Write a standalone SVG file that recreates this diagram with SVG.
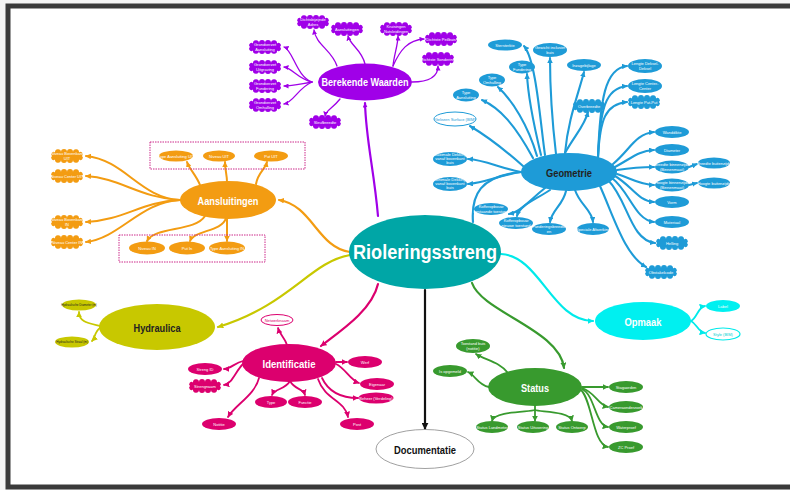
<svg xmlns="http://www.w3.org/2000/svg" xmlns:xlink="http://www.w3.org/1999/xlink" width="790" height="490" viewBox="0 0 790 490">
<defs>
<style>
.t{font-family:"Liberation Sans",Arial,sans-serif;font-size:4px;fill:#fff;text-anchor:middle}
.td{fill:#222}
.h{font-family:"Liberation Sans",Arial,sans-serif;font-weight:bold;text-anchor:middle;fill:#fff}
.P{fill:#a000e8}.B{fill:#1e9bd7}.O{fill:#f39c12}.Y{fill:#c8c800}.M{fill:#dc006e}.G{fill:#389a2e}.C{fill:#00f0f0}
.cn path{fill:none;stroke-width:1.8;stroke-linecap:round}
.cn path.cp{stroke:#a000e8;marker-end:url(#ap);stroke-width:1.3}
.cn path.cb{stroke:#1e9bd7;marker-end:url(#ab);stroke-width:2.1}
.cn path.co{stroke:#f39c12;marker-end:url(#ao);stroke-width:2}
.cy{stroke:#c8c800;marker-end:url(#ay)}
.cm{stroke:#dc006e;marker-end:url(#am)}
.cg{stroke:#389a2e;marker-end:url(#ag)}
.cc{stroke:#00eaea;marker-end:url(#ac)}
.cn path.main{stroke-width:2.2}
.box{fill:none;stroke:#cc2a8a;stroke-width:1;stroke-dasharray:1.5 1}
</style>
<path id="cloud" d="M-12,-3.5 A3,3 0 0 1 -6,-4 A3,3 0 0 1 0,-4 A3,3 0 0 1 6,-4 A3,3 0 0 1 12,-3.5 A2,2 0 0 1 15,0 A2,2 0 0 1 12,3.5 A3,3 0 0 1 6,4 A3,3 0 0 1 0,4 A3,3 0 0 1 -6,4 A3,3 0 0 1 -12,3.5 A2,2 0 0 1 -15,0 A2,2 0 0 1 -12,-3.5 Z"/>
<marker id="ap" viewBox="0 0 10 10" refX="9" refY="5" markerWidth="5" markerHeight="5" orient="auto" markerUnits="userSpaceOnUse"><path d="M0,0L10,5L0,10z" fill="#a000e8"/></marker>
<marker id="ab" viewBox="0 0 10 10" refX="9" refY="5" markerWidth="5.5" markerHeight="5.5" orient="auto" markerUnits="userSpaceOnUse"><path d="M0,0L10,5L0,10z" fill="#1e9bd7"/></marker>
<marker id="ao" viewBox="0 0 10 10" refX="9" refY="5" markerWidth="5.5" markerHeight="5.5" orient="auto" markerUnits="userSpaceOnUse"><path d="M0,0L10,5L0,10z" fill="#f39c12"/></marker>
<marker id="ay" viewBox="0 0 10 10" refX="9" refY="5" markerWidth="6" markerHeight="6" orient="auto" markerUnits="userSpaceOnUse"><path d="M0,0L10,5L0,10z" fill="#c8c800"/></marker>
<marker id="am" viewBox="0 0 10 10" refX="9" refY="5" markerWidth="6" markerHeight="6" orient="auto" markerUnits="userSpaceOnUse"><path d="M0,0L10,5L0,10z" fill="#dc006e"/></marker>
<marker id="ag" viewBox="0 0 10 10" refX="9" refY="5" markerWidth="6" markerHeight="6" orient="auto" markerUnits="userSpaceOnUse"><path d="M0,0L10,5L0,10z" fill="#389a2e"/></marker>
<marker id="ac" viewBox="0 0 10 10" refX="9" refY="5" markerWidth="6" markerHeight="6" orient="auto" markerUnits="userSpaceOnUse"><path d="M0,0L10,5L0,10z" fill="#00eaea"/></marker>
<marker id="ak" viewBox="0 0 10 10" refX="9" refY="5" markerWidth="7" markerHeight="7" orient="auto" markerUnits="userSpaceOnUse"><path d="M0,0L10,5L0,10z" fill="#111"/></marker>
</defs>
<rect x="0" y="0" width="790" height="490" fill="#f4f4f4"/>
<rect x="8" y="6" width="800" height="481" fill="#fff" stroke="#3a3a3a" stroke-width="5"/>

<g class="cn" id="connectors">
<!-- main -->
<path class="cp main" d="M378,216 C374,170 366,140 365,103"/>
<path class="co main" d="M350,252 C318,248 312,205 279,200"/>
<path class="cy main" d="M350,255 C310,262 290,305 218,327"/>
<path class="cm main" d="M378,284 C372,310 342,330 321,346"/>
<path class="cg main" d="M472,283 C482,312 560,330 564,368"/>
<path class="cc main" d="M501,254 C540,256 552,321 593,321"/>
<path class="main" stroke="#111" stroke-width="1.8" marker-end="url(#ak)" d="M425,290 L425,429"/>
<path class="main" stroke="#1e9bd7" d="M473,222 C471,195 480,176 521,172"/>
<!-- purple -->
<path class="cp" d="M312,82 C296,76 293,50 284,47"/>
<path class="cp" d="M312,82 C298,79 292,68 284,67"/>
<path class="cp" d="M312,82 C300,84 292,86 284,86"/>
<path class="cp" d="M312,82 C298,88 294,102 284,104"/>
<path class="cp" d="M337,66 C332,50 316,45 314,30"/>
<path class="cp" d="M365,64 C362,50 350,45 348,36"/>
<path class="cp" d="M393,66 C394,55 398,45 398,36"/>
<path class="cp" d="M393,66 C400,50 408,40 424,39"/>
<path class="cp" d="M412,82 C430,82 438,76 438,66"/>
<path class="cp" d="M340,99 C333,108 326,110 325,116"/>
<!-- blue -->
<path class="cb" d="M533,158 C515,125 500,108 482,100"/>
<path class="cb" d="M537,156 C528,125 512,100 498,87"/>
<path class="cb" d="M541,155 C535,130 528,100 527,74"/>
<path class="cb" d="M545,155 C540,120 536,60 524,46"/>
<path class="cb" d="M556,154 C552,120 550,90 550,58"/>
<path class="cb" d="M523,166 C505,150 485,135 470,126"/>
<path class="cb" d="M565,153 C568,120 578,95 584,72"/>
<path class="cb" d="M565,153 C575,135 585,125 588,112"/>
<path class="cb" d="M598,157 C600,100 605,68 627,66"/>
<path class="cb" d="M598,157 C600,110 605,88 627,86"/>
<path class="cb" d="M598,157 C600,120 605,104 627,102"/>
<path class="cb" d="M613,164 C630,150 635,134 654,132"/>
<path class="cb" d="M615,167 C632,158 638,151 654,150"/>
<path class="cb" d="M617,170 C630,168 640,167 654,167"/>
<path class="cb" d="M617,174 C630,178 640,185 654,185"/>
<path class="cb" d="M615,176 C632,186 638,201 654,202"/>
<path class="cb" d="M612,178 C630,192 635,220 654,222"/>
<path class="cb" d="M608,180 C628,200 630,240 655,243"/>
<path class="cb" d="M600,186 C615,220 625,255 646,267"/>
<path class="cb" d="M689,167 L697,164"/>
<path class="cb" d="M689,185 L697,183"/>
<path class="cb" d="M521,172 C500,168 485,160 468,159"/>
<path class="cb" d="M521,172 C500,175 485,183 468,184"/>
<path class="cb" d="M545,188 C530,200 520,212 509,214"/>
<path class="cb" d="M550,190 C535,200 520,205 517,216"/>
<path class="cb" d="M566,191 C563,205 552,210 550,222"/>
<path class="cb" d="M575,190 C580,205 592,210 593,222"/>
<!-- orange -->
<path class="co" d="M180,200 C140,198 125,160 86,156"/>
<path class="co" d="M180,200 C140,198 120,178 86,176"/>
<path class="co" d="M180,200 C140,202 125,220 86,222"/>
<path class="co" d="M180,200 C140,202 120,238 86,242"/>
<path class="co" d="M200,185 C196,175 190,170 187,162"/>
<path class="co" d="M227,182 C227,175 225,170 225,162"/>
<path class="co" d="M256,184 C258,172 265,170 267,162"/>
<path class="co" d="M205,216 C195,232 155,226 147,241"/>
<path class="co" d="M226,218 C222,232 194,230 190,241"/>
<path class="co" d="M227,218 L227,241"/>
<!-- olive -->
<path class="cy" d="M100,326 C88,323 79,322 79,312"/>
<path class="cy" d="M100,328 C95,331 95,338 92,341"/>
<!-- magenta -->
<path class="cm" d="M287,345 C285,338 280,335 278,328"/>
<path class="cm" d="M243,361 C235,363 230,369 224,369"/>
<path class="cm" d="M243,364 C235,372 232,384 224,385"/>
<path class="cm" d="M290,381 C285,390 275,388 272,395"/>
<path class="cm" d="M290,381 C295,390 303,388 305,395"/>
<path class="cm" d="M259,378 C255,395 235,405 228,417"/>
<path class="cm" d="M336,362 L347,362"/>
<path class="cm" d="M336,364 C345,368 350,380 359,383"/>
<path class="cm" d="M322,378 C330,395 345,398 358,398"/>
<path class="cm" d="M318,379 C325,400 345,400 348,417"/>
<!-- green -->
<path class="cg" d="M508,373 C500,362 485,360 476,354"/>
<path class="cg" d="M489,387 C478,385 475,375 468,372"/>
<path class="cg" d="M535,406 L535,421"/>
<path class="cg" d="M535,410 C530,412 494,411 492,421"/>
<path class="cg" d="M535,410 C540,412 570,411 572,421"/>
<path class="cg" d="M582,387 L608,387"/>
<path class="cg" d="M582,388 C595,392 598,405 608,407"/>
<path class="cg" d="M582,389 C595,395 595,425 608,427"/>
<path class="cg" d="M581,390 C592,400 593,445 608,447"/>
<!-- cyan -->
<path class="cc" d="M691,321 C697,318 698,307 705,306"/>
<path class="cc" d="M691,321 C697,324 698,332 705,333"/>
</g>

<g id="boxes">
<rect class="box" x="150" y="142" width="155" height="27"/>
<rect class="box" x="119" y="235" width="146" height="27"/>
</g>

<!-- main nodes -->
<g id="n-center"><ellipse cx="425" cy="252" rx="76" ry="37" fill="#00a6a6"/><text class="h" x="425" y="259" font-size="20" textLength="144" lengthAdjust="spacingAndGlyphs">Rioleringsstreng</text></g>
<g id="n-berekende"><ellipse cx="365" cy="82" rx="47" ry="18.5" class="P"/><text class="h" x="365" y="86" font-size="11.5" textLength="87" lengthAdjust="spacingAndGlyphs">Berekende Waarden</text></g>
<g id="n-geometrie"><ellipse cx="569" cy="172" rx="48" ry="19" class="B"/><text class="h" x="569" y="176.5" font-size="11.5" style="fill:#222" textLength="46" lengthAdjust="spacingAndGlyphs">Geometrie</text></g>
<g id="n-aansluitingen"><ellipse cx="228" cy="200" rx="48" ry="19" class="O"/><text class="h" x="228" y="204.5" font-size="11.5" textLength="61" lengthAdjust="spacingAndGlyphs">Aansluitingen</text></g>
<g id="n-hydraulica"><ellipse cx="157" cy="327" rx="58" ry="23" class="Y"/><text class="h" x="157" y="331.5" font-size="11.5" style="fill:#222" textLength="47" lengthAdjust="spacingAndGlyphs">Hydraulica</text></g>
<g id="n-identificatie"><ellipse cx="289" cy="363" rx="47" ry="19" class="M"/><text class="h" x="289" y="367.5" font-size="11.5" textLength="53" lengthAdjust="spacingAndGlyphs">Identificatie</text></g>
<g id="n-status"><ellipse cx="535" cy="387" rx="47" ry="19" class="G"/><text class="h" x="535" y="391.5" font-size="11.5" textLength="28" lengthAdjust="spacingAndGlyphs">Status</text></g>
<g id="n-opmaak"><ellipse cx="643" cy="321" rx="48" ry="19" class="C"/><text class="h" x="643" y="325.5" font-size="11.5" textLength="37" lengthAdjust="spacingAndGlyphs">Opmaak</text></g>
<g id="n-documentatie"><ellipse cx="425" cy="449" rx="49" ry="19.5" fill="#fff" stroke="#888" stroke-width="0.8"/><text class="h" x="425" y="453.5" font-size="11.5" style="fill:#111" textLength="62" lengthAdjust="spacingAndGlyphs">Documentatie</text></g>

<!-- purple children -->
<g id="p1"><use href="#cloud" x="313" y="22" class="P"/><text class="t" x="313" y="21">Dichtsbijzijnde<tspan x="313" dy="4.5">Adres</tspan></text></g>
<g id="p2"><use href="#cloud" x="347" y="29" class="P"/><text class="t" x="347" y="30.5">Aansluitingen</text></g>
<g id="p3"><use href="#cloud" x="396" y="29" class="P"/><text class="t" x="396" y="28">Kruisingen<tspan x="396" dy="4.5">Nutsleidingen</tspan></text></g>
<g id="p4"><use href="#cloud" x="441" y="39" class="P"/><text class="t" x="441" y="40.5">Dichtste Peilbuis</text></g>
<g id="p5"><use href="#cloud" x="438" y="59" class="P"/><text class="t" x="438" y="60.5">Dichtste Sondering</text></g>
<g id="p6"><use href="#cloud" x="265" y="47" class="P"/><text class="t" x="265" y="46">Grondverzet<tspan x="265" dy="4.5">Aansluiting</tspan></text></g>
<g id="p7"><use href="#cloud" x="265" y="67" class="P"/><text class="t" x="265" y="66">Grondverzet<tspan x="265" dy="4.5">Uitgraving</tspan></text></g>
<g id="p8"><use href="#cloud" x="265" y="86" class="P"/><text class="t" x="265" y="85">Grondverzet<tspan x="265" dy="4.5">Fundering</tspan></text></g>
<g id="p9"><use href="#cloud" x="265" y="105" class="P"/><text class="t" x="265" y="104">Grondverzet<tspan x="265" dy="4.5">Omhulling</tspan></text></g>
<g id="p10"><use href="#cloud" x="325" y="122" class="P"/><text class="t" x="325" y="123.5">Sleufbreedte</text></g>

<!-- blue children -->
<g id="b1"><ellipse cx="505" cy="45" rx="17" ry="5.5" class="B"/><text class="t" x="505" y="46.5">Stersterkte</text></g>
<g id="b2"><ellipse cx="550" cy="50" rx="17" ry="7" class="B"/><text class="t" x="550" y="49">Gewicht inclusief<tspan x="550" dy="4.5">buis</tspan></text></g>
<g id="b3"><ellipse cx="522" cy="67" rx="13" ry="6.5" class="B"/><text class="t" x="522" y="66">Type<tspan x="522" dy="4.5">Fundering</tspan></text></g>
<g id="b4"><ellipse cx="492" cy="80" rx="13" ry="6.5" class="B"/><text class="t" x="492" y="79">Type<tspan x="492" dy="4.5">Omhulling</tspan></text></g>
<g id="b5"><ellipse cx="466" cy="95" rx="13" ry="6.5" class="B"/><text class="t" x="466" y="94">Type<tspan x="466" dy="4.5">Aansluiting</tspan></text></g>
<g id="b6"><ellipse cx="455" cy="119" rx="21" ry="7" fill="#fff" stroke="#1e9bd7" stroke-width="1"/><text class="t" x="455" y="120.5" style="fill:#1e9bd7">Gelezen Surface (BIM)</text></g>
<g id="b7"><ellipse cx="584" cy="65" rx="17" ry="6" class="B"/><text class="t" x="584" y="66.5">Inzagebijlage</text></g>
<g id="b8"><ellipse cx="645" cy="66" rx="17" ry="7" class="B"/><text class="t" x="645" y="65">Lengte Deksel-<tspan x="645" dy="4.5">Deksel</tspan></text></g>
<g id="b9"><ellipse cx="645" cy="86" rx="17" ry="7" class="B"/><text class="t" x="645" y="85">Lengte Center-<tspan x="645" dy="4.5">Center</tspan></text></g>
<g id="b10"><use href="#cloud" x="644" y="102" class="B"/><text class="t" x="644" y="103.5">Lengte Put-Put</text></g>
<g id="b11"><use href="#cloud" x="589" y="106" class="B"/><text class="t" x="589" y="107.5">Overbreedte</text></g>
<g id="b12"><ellipse cx="672" cy="132" rx="17" ry="6" class="B"/><text class="t" x="672" y="133.5">Wanddikte</text></g>
<g id="b13"><ellipse cx="672" cy="150" rx="17" ry="6" class="B"/><text class="t" x="672" y="151.5">Diameter</text></g>
<g id="b14"><ellipse cx="672" cy="167" rx="17" ry="6.5" class="B"/><text class="t" x="672" y="166">Breedte binnenzijde<tspan x="672" dy="4.5">(Binnenmaat)</tspan></text></g>
<g id="b15"><ellipse cx="714" cy="163" rx="16" ry="5.5" class="B"/><text class="t" x="714" y="164.5">Breedte buitenzijde</text></g>
<g id="b16"><ellipse cx="672" cy="185" rx="17" ry="6.5" class="B"/><text class="t" x="672" y="184">Hoogte binnenzijde<tspan x="672" dy="4.5">(Binnenmaat)</tspan></text></g>
<g id="b17"><ellipse cx="714" cy="183" rx="16" ry="5.5" class="B"/><text class="t" x="714" y="184.5">Hoogte buitenzijde</text></g>
<g id="b18"><ellipse cx="672" cy="202" rx="17" ry="6" class="B"/><text class="t" x="672" y="203.5">Vorm</text></g>
<g id="b19"><ellipse cx="672" cy="222" rx="17" ry="6" class="B"/><text class="t" x="672" y="223.5">Materiaal</text></g>
<g id="b20"><use href="#cloud" x="672" y="243" class="B"/><text class="t" x="672" y="244.5">Helling</text></g>
<g id="b21"><use href="#cloud" x="661" y="272" class="B"/><text class="t" x="661" y="273.5">Obstakelcode</text></g>
<g id="b22"><ellipse cx="450" cy="159" rx="17" ry="7" class="B"/><text class="t" x="450" y="156">Maximale Dekking<tspan x="450" dy="4">vanaf bovenkant</tspan><tspan x="450" dy="4">buis</tspan></text></g>
<g id="b23"><ellipse cx="450" cy="184" rx="17" ry="7" class="B"/><text class="t" x="450" y="181">Minimale Dekking<tspan x="450" dy="4">vanaf bovenkant</tspan><tspan x="450" dy="4">buis</tspan></text></g>
<g id="b24"><ellipse cx="491" cy="209" rx="17" ry="6" class="B"/><text class="t" x="491" y="208">Kofferopbouw<tspan x="491" dy="4.5">bestaande toestand</tspan></text></g>
<g id="b25"><ellipse cx="516" cy="223" rx="17" ry="6" class="B"/><text class="t" x="516" y="222">Kofferopbouw<tspan x="516" dy="4.5">nieuwe toestand</tspan></text></g>
<g id="b26"><ellipse cx="549" cy="229" rx="17" ry="6" class="B"/><text class="t" x="549" y="228">Funderingsbreedte<tspan x="549" dy="4.5">en</tspan></text></g>
<g id="b27"><ellipse cx="593" cy="229" rx="16" ry="6" class="B"/><text class="t" x="593" y="230.5">Speciale Afwerking</text></g>

<!-- orange children -->
<g id="o1"><use href="#cloud" x="67" y="156" class="O"/><text class="t" x="67" y="155">Niveau Bovenkant<tspan x="67" dy="4.5">UIT</tspan></text></g>
<g id="o2"><use href="#cloud" x="67" y="176" class="O"/><text class="t" x="67" y="177.5">Niveau Center UIT</text></g>
<g id="o3"><use href="#cloud" x="67" y="222" class="O"/><text class="t" x="67" y="221">Niveau Bovenkant<tspan x="67" dy="4.5">IN</tspan></text></g>
<g id="o4"><use href="#cloud" x="67" y="242" class="O"/><text class="t" x="67" y="243.5">Niveau Center IN</text></g>
<g id="o5"><ellipse cx="176" cy="156" rx="17" ry="5.5" class="O"/><text class="t" x="176" y="157.5">Type Aansluiting UIT</text></g>
<g id="o6"><ellipse cx="219" cy="156" rx="16" ry="5.5" class="O"/><text class="t" x="219" y="157.5">Niveau UIT</text></g>
<g id="o7"><ellipse cx="271" cy="156" rx="17" ry="5.5" class="O"/><text class="t" x="271" y="157.5">Put UIT</text></g>
<g id="o8"><ellipse cx="147" cy="248" rx="18" ry="6.5" class="O"/><text class="t" x="147" y="249.5">Niveau IN</text></g>
<g id="o9"><ellipse cx="187" cy="248" rx="18" ry="6.5" class="O"/><text class="t" x="187" y="249.5">Put In</text></g>
<g id="o10"><ellipse cx="227" cy="248" rx="18" ry="6.5" class="O"/><text class="t" x="227" y="249.5">Type Aansluiting IN</text></g>

<!-- olive children -->
<g id="y1"><ellipse cx="79" cy="305" rx="17" ry="5.5" class="Y"/><text class="t td" x="79" y="306.3" style="font-size:3px">Hydraulische Diameter (m)</text></g>
<g id="y2"><ellipse cx="72" cy="342" rx="17" ry="5.5" class="Y"/><text class="t td" x="72" y="343.3" style="font-size:3px">Hydraulische Straal (m)</text></g>

<!-- magenta children -->
<g id="m1"><ellipse cx="277" cy="320" rx="16" ry="5.5" fill="#fff" stroke="#dc006e" stroke-width="1"/><text class="t" x="277" y="321.5" style="fill:#dc006e">Netwerknaam</text></g>
<g id="m2"><ellipse cx="205" cy="369" rx="17" ry="6" class="M"/><text class="t" x="205" y="370.5">Streng ID</text></g>
<g id="m3"><use href="#cloud" x="205" y="386" class="M"/><text class="t" x="205" y="387.5">Strengnaam</text></g>
<g id="m4"><ellipse cx="271" cy="402" rx="16" ry="6" class="M"/><text class="t" x="271" y="403.5">Type</text></g>
<g id="m5"><ellipse cx="305" cy="402" rx="17" ry="6" class="M"/><text class="t" x="305" y="403.5">Functie</text></g>
<g id="m6"><ellipse cx="219" cy="424" rx="17" ry="6" class="M"/><text class="t" x="219" y="425.5">Notitie</text></g>
<g id="m7"><ellipse cx="365" cy="362" rx="17" ry="6" class="M"/><text class="t" x="365" y="363.5">Werf</text></g>
<g id="m8"><ellipse cx="377" cy="384" rx="17" ry="6" class="M"/><text class="t" x="377" y="385.5">Eigenaar</text></g>
<g id="m9"><ellipse cx="376" cy="398" rx="17.5" ry="5.5" class="M"/><text class="t" x="376" y="399.5">Beheer (Verdeling)</text></g>
<g id="m10"><ellipse cx="357" cy="424" rx="17" ry="6" class="M"/><text class="t" x="357" y="425.5">Post</text></g>

<!-- green children -->
<g id="g1"><ellipse cx="473" cy="346" rx="17" ry="7" class="G"/><text class="t" x="473" y="345">Toestand buis<tspan x="473" dy="4.5">(notitie)</tspan></text></g>
<g id="g2"><ellipse cx="450" cy="371" rx="17" ry="6" class="G"/><text class="t" x="450" y="372.5">Is opgemeld</text></g>
<g id="g3"><ellipse cx="492" cy="427" rx="16" ry="6" class="G"/><text class="t" x="492" y="428.5">Status Landmeter</text></g>
<g id="g4"><ellipse cx="533" cy="427" rx="16" ry="6" class="G"/><text class="t" x="533" y="428.5">Status Uitvoering</text></g>
<g id="g5"><ellipse cx="572" cy="427" rx="16" ry="6" class="G"/><text class="t" x="572" y="428.5">Status Ontwerp</text></g>
<g id="g6"><ellipse cx="626" cy="387" rx="17" ry="6" class="G"/><text class="t" x="626" y="388.5">Stagaorden</text></g>
<g id="g7"><ellipse cx="626" cy="407" rx="17" ry="6" class="G"/><text class="t" x="626" y="408.5">Cameraonderzoek</text></g>
<g id="g8"><ellipse cx="626" cy="427" rx="17" ry="6" class="G"/><text class="t" x="626" y="428.5">Waterproef</text></g>
<g id="g9"><ellipse cx="626" cy="447" rx="17" ry="6" class="G"/><text class="t" x="626" y="448.5">ZC Proef</text></g>

<!-- cyan children -->
<g id="c1"><ellipse cx="723" cy="306" rx="17" ry="6" class="C"/><text class="t" x="723" y="307.5">Label</text></g>
<g id="c2"><ellipse cx="723" cy="334" rx="17" ry="6" fill="#fff" stroke="#00eaea" stroke-width="1.2"/><text class="t" x="723" y="335.5" style="fill:#00d0d0">Style (BIM)</text></g>
</svg>
